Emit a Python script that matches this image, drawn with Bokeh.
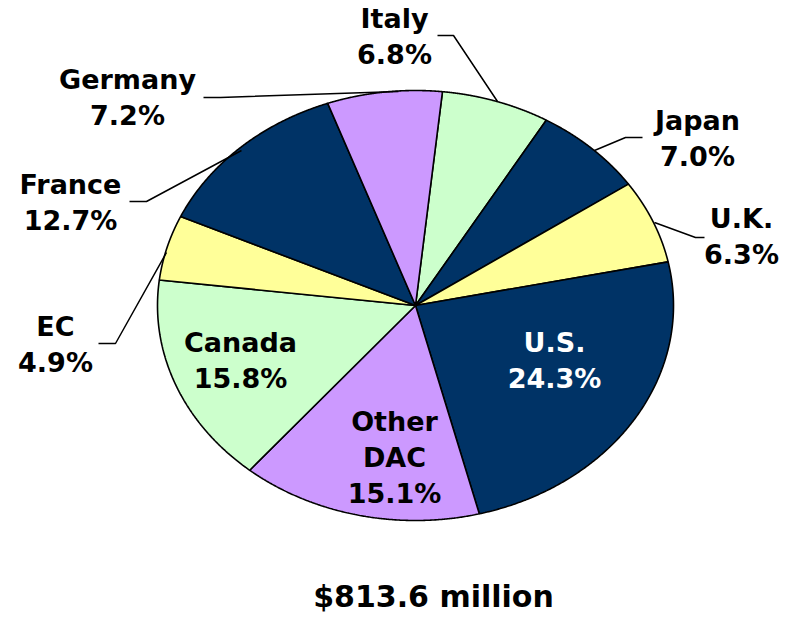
import numpy as np
from bokeh.plotting import figure
from bokeh.models import Range1d, ColumnDataSource
from bokeh.core.properties import value
from bokeh.embed import file_html
from bokeh.resources import INLINE

# ---- data ----
categories = ["Italy", "Japan", "U.K.", "U.S.", "Other DAC", "Canada", "EC", "France", "Germany"]
shares = [6.8, 7.0, 6.3, 24.3, 15.1, 15.8, 4.9, 12.7, 7.2]
colors = ["#CCFFCC", "#003366", "#FFFF99", "#003366", "#CC99FF",
          "#CCFFCC", "#FFFF99", "#003366", "#CC99FF"]
text_colors = ["black", "black", "black", "white", "black", "black", "black", "black", "black"]
total_label = "$813.6 million"

# label anchor (centre of first line) for each category
label_x = [394, 697, 741, 554, 394, 240, 55, 70, 127]
label_y = [18, 120, 218, 342, 421, 342, 326, 184, 79]

# leader lines (for outside labels)
leader_xs = [[437, 453, 497], [642, 625, 594], [704, 695, 654],
             [203, 220, 398], [129, 146, 241], [98, 115, 166]]
leader_ys = [[35, 35, 101], [137, 137, 150], [237, 237, 222],
             [97, 97, 91], [201, 201, 150], [343, 343, 252]]

# ---- geometry ----
cx, cy, rx, ry = 415, 305, 258, 215
start_deg = 6.0

total = sum(shares)
cum = np.concatenate([[0], np.cumsum(shares)])
xs, ys = [], []
for i in range(len(shares)):
    a0 = np.radians(start_deg + 360 * cum[i] / total)
    a1 = np.radians(start_deg + 360 * cum[i + 1] / total)
    t = np.linspace(a0, a1, 200)
    px = np.concatenate([[cx], cx + rx * np.sin(t), [cx]])
    py = np.concatenate([[cy], cy - ry * np.cos(t), [cy]])
    xs.append(px.tolist())
    ys.append(py.tolist())

p = figure(width=780, height=617, x_range=Range1d(0, 780), y_range=Range1d(617, 0),
           toolbar_location=None, output_backend="svg", min_border=0)
p.axis.visible = False
p.grid.visible = False
p.outline_line_color = None
p.background_fill_color = "white"

p.patches(xs=xs, ys=ys, fill_color=colors, line_color="black", line_width=1.6)

p.multi_line(xs=leader_xs, ys=leader_ys, line_color="black", line_width=1.5)

tx, ty, tt, tc = [], [], [], []
spacing = 36
for name, v, x, y, c in zip(categories, shares, label_x, label_y, text_colors):
    lines = name.split(" ") + [f"{v:.1f}%"]
    for k, ln in enumerate(lines):
        tx.append(x)
        ty.append(y + k * spacing)
        tt.append(ln)
        tc.append(c)

src = ColumnDataSource(dict(x=tx, y=ty, text=tt, color=tc))
p.text(x="x", y="y", text="text", text_color="color", source=src,
       text_font=value("DejaVu Sans"), text_font_style="bold", text_font_size="27px",
       text_align="center", text_baseline="middle")

p.text(x=[433], y=[596], text=[total_label], text_color="black",
       text_font=value("DejaVu Sans"), text_font_style="bold", text_font_size="30px",
       text_align="center", text_baseline="middle")

open("out.html", "w").write(file_html(p, INLINE))
